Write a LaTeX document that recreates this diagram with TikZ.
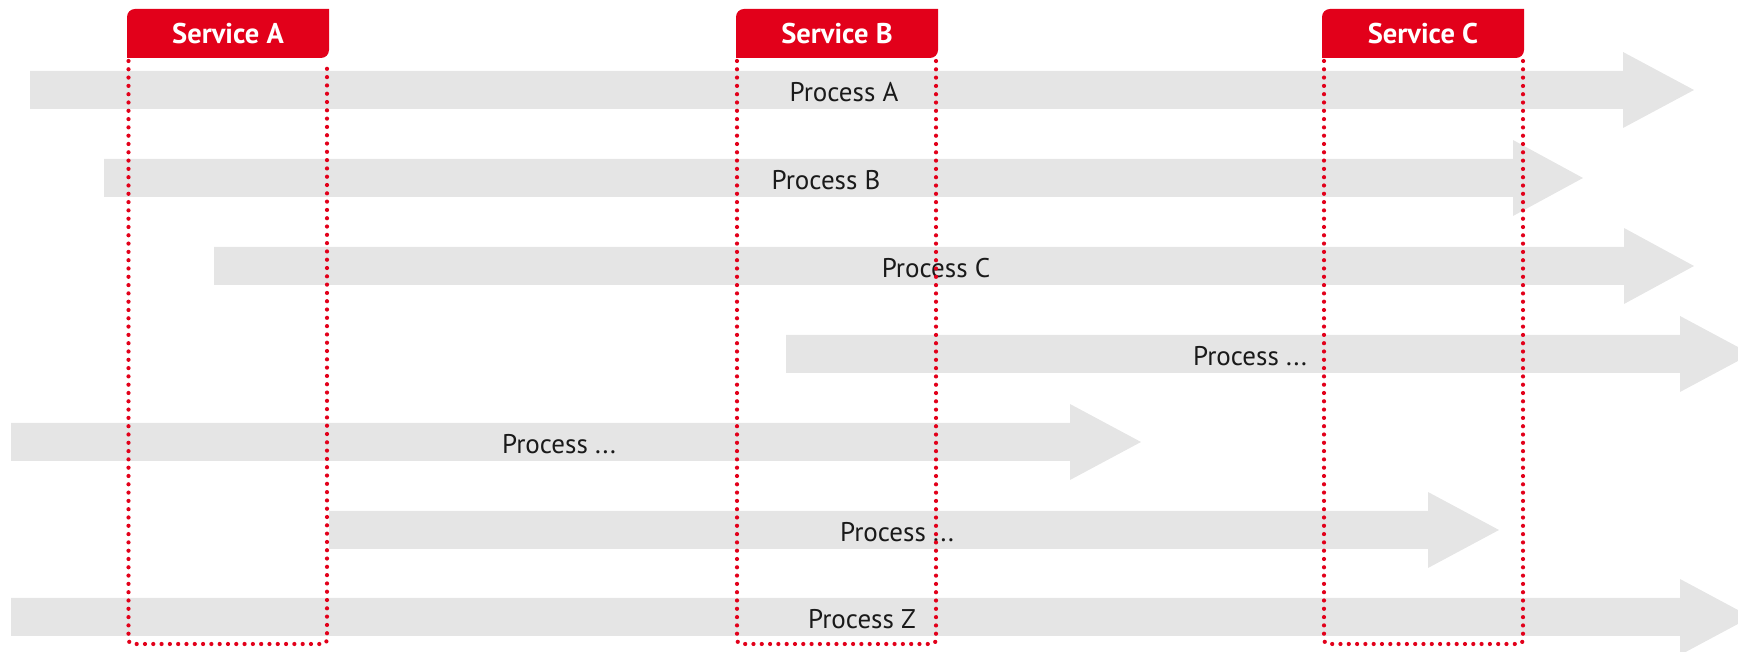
\documentclass[tikz,border=0pt]{standalone}
\usepackage{fontspec}
\setmainfont{PT Sans}
\definecolor{svcred}{HTML}{E2001A}
\definecolor{bargrey}{HTML}{E5E5E5}
\definecolor{txt}{HTML}{1A1A1A}
\tikzset{
  procbar/.style={fill=bargrey},
  svcbox/.style={fill=svcred},
  dotline/.style={draw=svcred, line width=4.2pt, line cap=round, dash pattern=on 0pt off 8.3pt, rounded corners=4pt},
  proclabel/.style={text=txt, inner sep=0pt, font=\fontsize{27}{30}\selectfont},
  svclabel/.style={text=white, inner sep=0pt, font=\bfseries\fontsize{28.5}{31}\selectfont}
}
% arrow: #1 centre Y, #2 left x, #3 head base x, #4 tip x
\newcommand{\procarrow}[4]{%
  \fill[procbar] (#2,#1-19) -- (#3,#1-19) -- (#3,#1-38) -- (#4,#1) -- (#3,#1+38) -- (#3,#1+19) -- (#2,#1+19) -- cycle;}
\newcommand{\svcheader}[2]{%
  \fill[svcbox] (#1,594) -- (#1,635) arc[start angle=180,end angle=90,radius=8] -- (#2,643) -- (#2,602) arc[start angle=0,end angle=-90,radius=8] -- cycle;}
\begin{document}
\begin{tikzpicture}[x=1pt,y=1pt]
\useasboundingbox (0,0) rectangle (1738,652);
\clip (0,0) rectangle (1738,652);
% process arrows (Y = 652 - pixel row)
\procarrow{562}{30}{1623}{1694}
\procarrow{474}{104}{1513}{1583}
\procarrow{386}{214}{1624}{1694}
\procarrow{298}{786}{1680}{1751}
\procarrow{210}{11}{1070}{1141}
\procarrow{122}{329}{1428}{1499}
\procarrow{35}{11}{1680}{1751}
% labels
\node[proclabel] (pa) at (844,560) {Process A};
\node[proclabel] (pb) at (826,472) {Process B};
\node[proclabel] (pc) at (936,384) {Process C};
\node[proclabel] (pd) at (1250,296) {Process ...};
\node[proclabel] (pe) at (559,208) {Process ...};
\node[proclabel] (pf) at (897,120) {Process ...};
\node[proclabel] (pz) at (862,33) {Process Z};
% service headers
\svcheader{127}{329}
\svcheader{736}{938}
\svcheader{1322}{1524}
\node[svclabel] (sa) at (228,618) {Service A};
\node[svclabel] (sb) at (837,618) {Service B};
\node[svclabel] (sc) at (1423,618) {Service C};
% dotted frames
\draw[dotline] (128.5,591) -- (128.5,8) -- (327,8) -- (327,591);
\draw[dotline] (737,591) -- (737,8) -- (936,8) -- (936,591);
\draw[dotline] (1324,591) -- (1324,8) -- (1523,8) -- (1523,591);
\end{tikzpicture}
\end{document}
